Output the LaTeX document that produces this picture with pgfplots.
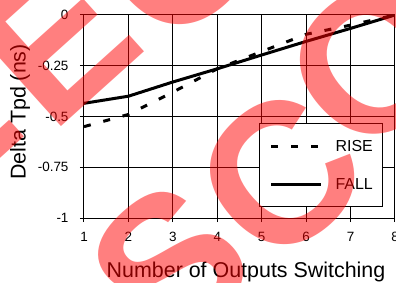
\documentclass[border=0pt]{standalone}
\usepackage{fontspec}
\setmainfont{Liberation Sans}
\usepackage{pgfplots}
\pgfplotsset{compat=1.18}
\pgfplotstableread{
x y
1 -0.55
2 -0.49
3 -0.38
4 -0.265
5 -0.18
6 -0.095
7 -0.05
8 0
}\rise
\pgfplotstableread{
x y
1 -0.435
2 -0.40
3 -0.33
4 -0.265
5 -0.197
6 -0.13
7 -0.066
8 0
}\fall
\begin{document}
\begin{tikzpicture}
\begin{axis}[
  scale only axis, width=311bp, height=203bp,
  xmin=1, xmax=8, ymin=-1, ymax=0,
  xtick={1,2,3,4,5,6,7,8},
  ytick={-1,-0.75,-0.5,-0.25,0},
  yticklabels={-1,-0.75,-0.5,-0.25,0},
  xticklabels={1,2,3,4,5,6,7,8},
  grid=major,
  major grid style={black, line width=1bp},
  axis line style={black, line width=1bp},
  tick style={black, line width=1bp},
  tick align=outside, major tick length=4bp,
  xtick pos=bottom, ytick pos=left,
  ticklabel style={font=\fontsize{13.5}{15}\selectfont},
  xticklabel style={yshift=-7bp},
  yticklabel style={xshift=-8bp},
  xlabel={Number of Outputs Switching},
  ylabel={Delta Tpd (ns)},
  label style={font=\fontsize{21.5}{24}\selectfont},
  xlabel style={at={(axis description cs:0.521,0)}, anchor=base, yshift=-59bp},
  ylabel style={at={(axis description cs:-0.2058,0.522)}, anchor=center},
  legend image code/.code={\draw[#1] (0bp,0bp) -- (50bp,0bp);},
  legend cell align=left,
  legend style={
    at={(rel axis cs:0.563,0.054)}, anchor=south west,
    draw=black, line width=1bp, fill=white,
    font=\fontsize{16}{19}\selectfont,
    nodes={inner sep=0bp},
    inner xsep=10bp, inner ysep=16bp,
    row sep=25.5bp,
    /tikz/every odd column/.append style={column sep=13bp},
  },
]
\addplot[black, line width=3bp, dash pattern=on 7bp off 13bp] table[x=x,y=y] {\rise};
\addlegendentry{RISE}
\addplot[black, line width=3bp] table[x=x,y=y] {\fall};
\addlegendentry{FALL}
\end{axis}
\begin{scope}[every node/.style={text=red, text opacity=0.5, rotate=42, font=\bfseries\fontsize{200}{200}\selectfont, inner sep=0pt}]
\node at (86bp,-47bp) {S};
\node at (196bp,43bp) {C};
\node at (289bp,156bp) {O};
\node at (-29bp,178bp) {E};
\node at (91bp,263bp) {C};
\node at (-149bp,93bp) {E};
\end{scope}
\pgfresetboundingbox
\path[use as bounding box] (-84bp,-65bp) rectangle (312bp,218bp);
\end{tikzpicture}
\end{document}
